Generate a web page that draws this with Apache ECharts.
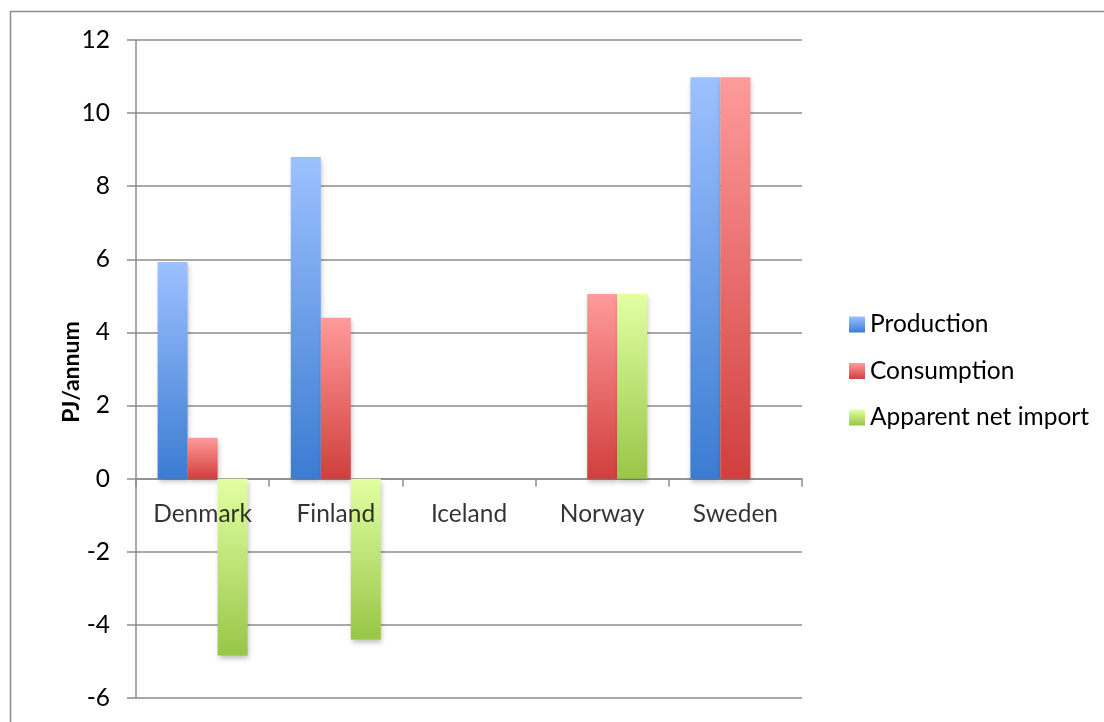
<!DOCTYPE html>
<html><head><meta charset="utf-8">
<script src="https://cdn.jsdelivr.net/npm/echarts@6/dist/echarts.min.js"></script>
<style>html,body{margin:0;padding:0;background:#fff}#c{width:1104px;height:722px}</style>
</head><body><div id="c"></div>
<script>
const categories = ['Denmark', 'Finland', 'Iceland', 'Norway', 'Sweden'];
const production = [5.93, 8.8, 0, 0, 10.98];
const consumption = [1.12, 4.4, 0, 5.05, 10.98];
const netImport = [-4.84, -4.4, 0, 5.05, 0];
const yTicks = { min: -6, max: 12, interval: 2 };
const yName = 'PJ/annum';
const seriesNames = ['Production', 'Consumption', 'Apparent net import'];

const FONT = 'Lato';
const FS = 24.5;
function grad(top, bottom) {
  return new echarts.graphic.LinearGradient(0, 0, 0, 1, [
    { offset: 0, color: top }, { offset: 1, color: bottom }
  ]);
}
const colors = [
  grad('#9dc1ff', '#3b7cd2'),
  grad('#ff9b9b', '#d03f3d'),
  grad('#e2ffa2', '#98c648')
];
const chart = echarts.init(document.getElementById('c'), null, { renderer: 'canvas' });
const barBase = {
  type: 'bar', barWidth: 30, barGap: '0%',
  itemStyle: { shadowBlur: 5, shadowOffsetY: 3, shadowOffsetX: 1, shadowColor: 'rgba(0,0,0,0.25)' }
};
chart.setOption({
  animation: false,
  textStyle: { fontFamily: FONT },
  graphic: [{
    type: 'rect', shape: { x: 10.5, y: 11.5, width: 1200, height: 800 },
    style: { fill: 'none', stroke: '#8c8c8c', lineWidth: 1.5 }, silent: true
  }, {
    type: 'text', rotation: Math.PI / 2,
    style: { text: yName, fontFamily: FONT, fontWeight: 'bold', fontSize: 23, fill: '#000', align: 'center', verticalAlign: 'middle' },
    x: 71.5, y: 372
  }],
  grid: { left: 136, right: 302, top: 40, bottom: 24, containLabel: false, outerBoundsMode: 'none' },
  legend: {
    orient: 'vertical', left: 844, top: 307, itemWidth: 16, itemHeight: 16, itemGap: 21.5,
    icon: 'rect',
    textStyle: { fontFamily: FONT, fontSize: FS, color: '#000' },
    data: seriesNames
  },
  xAxis: {
    type: 'category', data: categories,
    axisLine: { onZero: true, lineStyle: { color: '#8c8c8c', width: 1.5 } },
    axisTick: { show: true, length: 8, interval: 0, lineStyle: { color: '#8c8c8c', width: 1.5 } },
    axisLabel: { show: false },
    splitLine: { show: false }
  },
  yAxis: {
    type: 'value', min: yTicks.min, max: yTicks.max, interval: yTicks.interval,
    axisLine: { show: true, lineStyle: { color: '#8c8c8c', width: 1.5 } },
    axisTick: { show: true, length: 9, lineStyle: { color: '#8c8c8c', width: 1.5 } },
    axisLabel: { fontFamily: FONT, fontSize: FS, color: '#000', margin: 26 },
    splitLine: { show: true, lineStyle: { color: '#8c8c8c', width: 1.5 } }
  },
  series: [
    Object.assign({}, barBase, { name: seriesNames[0], data: production, itemStyle: Object.assign({}, barBase.itemStyle, { color: colors[0] }) }),
    Object.assign({}, barBase, { name: seriesNames[1], data: consumption, itemStyle: Object.assign({}, barBase.itemStyle, { color: colors[1] }) }),
    Object.assign({}, barBase, { name: seriesNames[2], data: netImport, itemStyle: Object.assign({}, barBase.itemStyle, { color: colors[2] }) }),
    {
      type: 'scatter', name: 'categoryLabels', symbolSize: 0, silent: true, z: 5,
      data: categories.map(c => [c, 0]),
      label: {
        show: true, position: 'bottom', distance: 23, formatter: p => p.data[0],
        fontFamily: FONT, fontSize: FS, color: '#000'
      }
    }
  ]
});
</script></body></html>
